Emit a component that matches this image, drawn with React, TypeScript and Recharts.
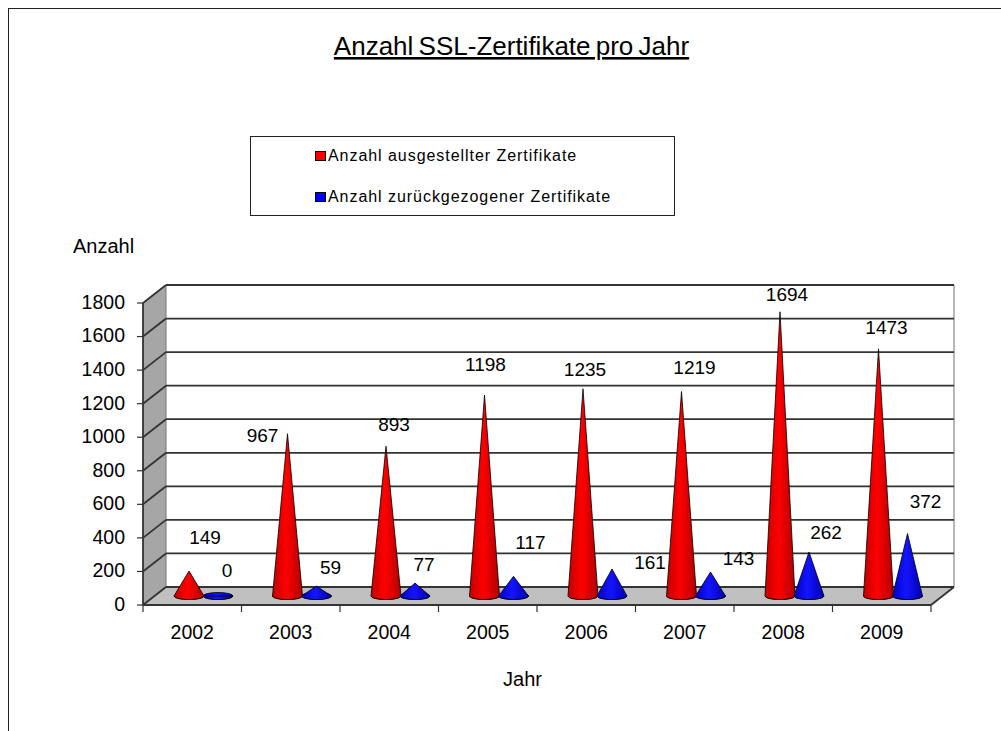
import { Bar, BarChart, LabelList, Legend, XAxis, YAxis, usePlotArea } from "recharts";

const years = ["2002", "2003", "2004", "2005", "2006", "2007", "2008", "2009"];
const issued = [149, 967, 893, 1198, 1235, 1219, 1694, 1473];
const revoked = [0, 59, 77, 117, 161, 143, 262, 372];
const yTicks = [0, 200, 400, 600, 800, 1000, 1200, 1400, 1600, 1800];
const legendColors = ["#ff0000", "#0000ff"];

// hand placed data labels, relative to the cone tip
const issuedNudge = [[16, -34], [-25, 2], [8, -22], [1, -31], [2, -19], [13, -24], [7, -17], [8, -21]];
const revokedNudge = [[9, -26], [14, -19], [9, -19], [17, -34], [38, -6], [28, -14], [17, -20], [18, -32]];

const data = years.map((year, i) => ({ year, issued: issued[i], revoked: revoked[i] }));

const FONT = "'Liberation Sans', Arial, sans-serif";
const DEPTH_X = 23;
const DEPTH_Y = 18;
// cones stand part way back on the floor
const CONE_DX = 11.5;
const CONE_DY = 9;

function Backdrop() {
  const plot = usePlotArea();
  if (!plot) return null;
  const left = plot.x;
  const right = plot.x + plot.width;
  const top = plot.y;
  const bottom = plot.y + plot.height;
  const step = plot.width / years.length;
  const yOf = (v: number) => bottom - (v / 1800) * plot.height;
  return (
    <g>
      <defs>
        <linearGradient id="redCone" x1="0" y1="0" x2="1" y2="0">
          <stop offset="0" stopColor="#c00000" />
          <stop offset="0.45" stopColor="#ff0000" />
          <stop offset="1" stopColor="#b00000" />
        </linearGradient>
        <linearGradient id="blueCone" x1="0" y1="0" x2="1" y2="0">
          <stop offset="0" stopColor="#0000c0" />
          <stop offset="0.45" stopColor="#1414ff" />
          <stop offset="1" stopColor="#0000b0" />
        </linearGradient>
      </defs>
      <text x={511.5} y={55} textAnchor="middle" fontFamily={FONT} fontSize={26} wordSpacing={-2} textDecoration="underline" fill="#000">
        Anzahl SSL-Zertifikate pro Jahr
      </text>
      <text x={103.5} y={253} textAnchor="middle" fontFamily={FONT} fontSize={20} fill="#000">Anzahl</text>
      <text x={522.5} y={686} textAnchor="middle" fontFamily={FONT} fontSize={20} fill="#000">Jahr</text>

      <polygon
        points={`${left},${top} ${left + DEPTH_X},${top - DEPTH_Y} ${left + DEPTH_X},${bottom - DEPTH_Y} ${left},${bottom}`}
        fill="#a6a6a6"
      />
      <polygon
        points={`${left},${bottom} ${left + DEPTH_X},${bottom - DEPTH_Y} ${right + DEPTH_X},${bottom - DEPTH_Y} ${right},${bottom}`}
        fill="#c0c0c0"
      />
      <line x1={right + DEPTH_X} y1={top - DEPTH_Y} x2={right + DEPTH_X} y2={bottom - DEPTH_Y} stroke="#a0a0a0" strokeWidth={1.5} />
      <line x1={left + DEPTH_X} y1={top - DEPTH_Y} x2={left + DEPTH_X} y2={bottom - DEPTH_Y} stroke="#777" strokeWidth={1} />
      {yTicks.map((t) => (
        <g key={t} stroke="#333" strokeWidth={1.8}>
          <line x1={left} y1={yOf(t)} x2={left + DEPTH_X} y2={yOf(t) - DEPTH_Y} />
          <line x1={left + DEPTH_X} y1={yOf(t) - DEPTH_Y} x2={right + DEPTH_X} y2={yOf(t) - DEPTH_Y} />
        </g>
      ))}
      <line x1={right} y1={bottom} x2={right + DEPTH_X} y2={bottom - DEPTH_Y} stroke="#333" strokeWidth={1.8} />
      {years.concat("").map((_, i) => (
        <line key={i} x1={left + i * step} y1={bottom} x2={left + i * step} y2={bottom + 7} stroke="#333" strokeWidth={1.2} />
      ))}
    </g>
  );
}

function Cone({ x, y, width, height, fill }: any) {
  const cx = x + width / 2 + CONE_DX;
  const r = width / 2 + 0.5;
  const base = y + height - CONE_DY;
  const tip = y - CONE_DY;
  const d = `M${cx - r},${base} L${cx},${tip} L${cx + r},${base} A${r},3.5 0 0 1 ${cx - r},${base} Z`;
  return (
    <g>
      <ellipse cx={cx} cy={base} rx={r} ry={3.5} fill={fill} stroke="#000" strokeWidth={0.8} />
      <path d={d} fill={fill} stroke="#000" strokeWidth={0.8} strokeLinejoin="round" />
    </g>
  );
}

function nudgedLabel(nudge: number[][]) {
  return ({ x, y, width, value, index }: any) => (
    <text
      x={x + width / 2 + CONE_DX + nudge[index][0]}
      y={y - CONE_DY + nudge[index][1]}
      textAnchor="middle"
      dominantBaseline="central"
      fontFamily={FONT}
      fontSize={19}
      fill="#000"
    >
      {value}
    </text>
  );
}

function LegendBox({ payload }: any) {
  return (
    <div
      style={{
        width: 425,
        height: 80,
        boxSizing: "border-box",
        border: "1px solid #222",
        background: "#fff",
        fontFamily: FONT,
        fontSize: 16,
        letterSpacing: 0.95,
        color: "#000",
        position: "relative",
      }}
    >
      {(payload || []).map((item: any, i: number) => (
        <div key={item.value} style={{ position: "absolute", left: 64, top: 10 + i * 41, display: "flex", alignItems: "center", whiteSpace: "nowrap" }}>
          <span style={{ width: 9, height: 8, background: legendColors[i], border: "1px solid #000", marginRight: 2 }} />
          {item.value}
        </div>
      ))}
    </div>
  );
}

export default function App() {
  return (
    <div style={{ position: "absolute", left: 0, top: 0, width: 1001, height: 731, overflow: "hidden", background: "#fff" }}>
      <div style={{ position: "absolute", left: 8, top: 8, width: 1100, height: 800, borderLeft: "1.5px solid #222", borderTop: "1.5px solid #222" }} />
      <div style={{ position: "absolute", left: 0, top: 0 }}>
        <BarChart
          width={1001}
          height={731}
          data={data}
          margin={{ top: 303, right: 70, bottom: 86, left: 83 }}
          barSize={29}
          barGap={0}
        >
          <Backdrop />
          <XAxis
            dataKey="year"
            height={40}
            tickLine={false}
            tickMargin={14}
            axisLine={{ stroke: "#333", strokeWidth: 1.8 }}
            tick={{ fontFamily: FONT, fontSize: 19.5, fill: "#000" }}
          />
          <YAxis
            width={60}
            domain={[0, 1800]}
            ticks={yTicks}
            interval={0}
            tickSize={6}
            tickMargin={12}
            axisLine={{ stroke: "#333", strokeWidth: 1.8 }}
            tickLine={{ stroke: "#333", strokeWidth: 1.2 }}
            tick={{ fontFamily: FONT, fontSize: 19.5, fill: "#000", dy: -1 }}
          />
          <Legend
            layout="horizontal"
            verticalAlign="middle"
            align="center"
            wrapperStyle={{ left: 250, top: 136, width: 425, height: 80 }}
            content={<LegendBox />}
          />
          <Bar dataKey="issued" name="Anzahl ausgestellter Zertifikate" fill="url(#redCone)" shape={<Cone />} isAnimationActive={false}>
            <LabelList dataKey="issued" content={nudgedLabel(issuedNudge)} />
          </Bar>
          <Bar dataKey="revoked" name="Anzahl zurückgezogener Zertifikate" fill="url(#blueCone)" shape={<Cone />} isAnimationActive={false}>
            <LabelList dataKey="revoked" content={nudgedLabel(revokedNudge)} />
          </Bar>
        </BarChart>
      </div>
    </div>
  );
}
